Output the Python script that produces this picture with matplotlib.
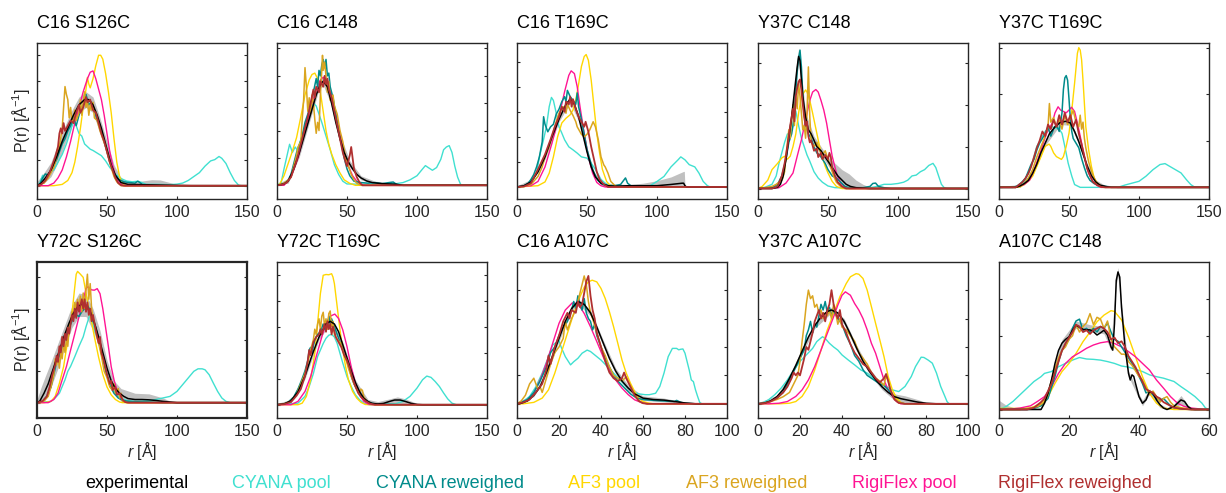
import numpy as np
import matplotlib
matplotlib.use("Agg")
import matplotlib.pyplot as plt

plt.rcParams['font.family'] = ['Liberation Sans', 'DejaVu Sans']
plt.rcParams['mathtext.fontset'] = 'custom'
plt.rcParams['mathtext.rm'] = 'Liberation Sans'
plt.rcParams['mathtext.it'] = 'Liberation Sans:italic'

# ---- data: P(r), (r [A], P) pairs, y in tick units ----
# bands are (r, lower, upper)

# C16 S126C
c16s126_exp = [(0,0),(3,0.1),(6,0.3),(10,0.6),(14,1.1),(18,1.7),(22,2.2),(26,2.7),(30,3.1),(34,3.3),(37,3.3),(40,3.1),(43,2.7),(46,2.2),(50,1.4),(53,0.8),(56,0.4),(60,0.12),(65,0.05),(75,0.04),(85,0.03),(100,0.01),(110,0),(150,0)]
c16s126_band = [(0,0,0.15),(5,0.1,0.5),(10,0.35,0.9),(15,0.9,1.6),(20,1.6,2.3),(25,2.3,2.9),(30,2.8,3.4),(35,3.0,3.6),(40,2.8,3.4),(45,2.0,2.6),(50,1.2,1.7),(55,0.3,0.8),(60,0,0.3),(65,0,0.12),(70,0,0.12),(75,0,0.18),(82,0,0.23),(88,0,0.22),(95,0,0.12),(100,0,0.04),(105,0,0),(150,0,0)]
c16s126_cy = [(0,0),(2,0.1),(4,0.4),(5,0.2),(7,0.3),(9,0.5),(12,0.6),(15,0.9),(18,1.2),(21,1.6),(24,2.1),(26,2.5),(28,2.3),(30,2.0),(32,1.9),(34,1.6),(36,1.5),(38,1.4),(40,1.35),(43,1.25),(46,1.15),(49,0.95),(52,0.7),(55,0.5),(58,0.35),(61,0.25),(64,0.18),(68,0.15),(72,0.17),(75,0.12),(78,0.05),(85,0.05),(95,0.04),(100,0.06),(104,0.1),(108,0.2),(112,0.35),(116,0.5),(120,0.75),(124,0.95),(127,1.0),(130,1.12),(132,1.05),(135,0.85),(138,0.5),(141,0.2),(144,0.02),(146,0),(150,0)]
c16s126_cyrw = [(0,0),(2,0.05),(4,0.3),(6,0.45),(8,0.4),(10,0.6),(12,0.8),(14,1.0),(16,1.3),(18,1.6),(20,1.8),(22,2.1),(24,2.3),(26,2.6),(28,2.3),(30,2.7),(32,3.0),(34,3.2),(35,3.5),(37,3.1),(39,3.2),(41,2.9),(43,2.5),(45,2.3),(47,1.9),(50,1.3),(52,0.9),(55,0.5),(58,0.25),(62,0.15),(66,0.12),(70,0.1),(72,0.17),(74,0.1),(76,0),(150,0)]
c16s126_af = [(0,0),(12,0),(18,0.05),(22,0.2),(25,0.5),(27,0.9),(29,1.5),(31,2.2),(33,3.0),(35,3.7),(36,4.15),(37,3.9),(38,3.75),(40,4.1),(42,4.6),(44,5.0),(45.5,5.0),(47,4.85),(49,4.3),(51,3.6),(53,2.8),(55,1.8),(57,0.9),(59,0.35),(61,0.1),(63,0),(150,0)]
c16s126_afrw = [(0,0),(5,0.1),(8,0.3),(10,0.5),(12,0.7),(14,1.1),(16,1.5),(18,2.2),(19,3.0),(20,3.8),(21,3.5),(22,3.3),(23,2.6),(24,3.0),(25,2.5),(26,2.4),(27,2.9),(28,2.5),(30,2.8),(31,3.3),(32,2.7),(33,3.2),(34,3.6),(35,3.0),(36,3.3),(37,2.7),(38,3.1),(39,2.9),(40,3.2),(41,2.6),(43,2.5),(45,2.1),(47,1.8),(49,1.5),(51,1.1),(53,0.7),(55,0.35),(57,0.15),(60,0),(150,0)]
c16s126_rf = [(0,0),(8,0),(12,0.1),(15,0.3),(18,0.6),(21,1.1),(24,1.7),(27,2.4),(30,3.0),(33,3.6),(36,4.1),(38,4.35),(40,4.4),(42,4.1),(44,3.7),(46,3.3),(48,2.7),(50,2.0),(52,1.3),(54,0.8),(56,0.4),(58,0.15),(61,0.02),(63,0),(150,0)]
c16s126_rfrw = [(0,0),(3,0.05),(6,0.2),(9,0.5),(11,0.8),(13,1.1),(15,1.5),(16,2.0),(17,2.2),(18,2.0),(19,2.4),(20,2.1),(22,2.3),(24,2.5),(26,2.4),(28,2.8),(30,3.1),(31,2.8),(33,3.0),(35,3.4),(36,3.2),(38,3.3),(40,2.9),(42,2.8),(44,2.4),(46,2.0),(48,1.7),(50,1.3),(52,0.9),(54,0.6),(56,0.3),(58,0.1),(60,0.02),(62,0),(150,0)]

# C16 C148
c16c148_exp = [(0,0),(5,0.05),(8,0.15),(12,0.6),(16,1.2),(20,1.9),(24,2.6),(28,3.3),(31,3.7),(33,3.8),(36,3.6),(39,3.0),(42,2.3),(45,1.7),(48,1.2),(51,0.85),(54,0.6),(57,0.4),(60,0.27),(64,0.16),(68,0.1),(75,0.06),(85,0.04),(90,0),(150,0)]
c16c148_band = [(0,0,0.05),(8,0.08,0.25),(16,1.05,1.35),(24,2.45,2.75),(30,3.5,3.85),(33,3.65,3.95),(38,3.05,3.35),(45,1.55,1.85),(52,0.65,0.9),(60,0.2,0.35),(70,0.05,0.15),(85,0.02,0.07),(90,0,0),(150,0,0)]
c16c148_cy = [(0,0),(3,0.1),(5,0.6),(7,1.05),(9,1.5),(11,1.2),(13,1.4),(15,1.25),(17,1.65),(20,2.15),(23,2.6),(26,3.0),(28,2.9),(30,2.6),(32,2.3),(35,1.8),(38,1.3),(41,0.75),(44,0.4),(47,0.15),(50,0.05),(60,0.04),(75,0.05),(85,0.06),(90,0.1),(95,0.2),(100,0.35),(104,0.6),(106,0.72),(108,0.65),(111,0.55),(114,0.65),(117,0.95),(119,1.3),(121,1.4),(123,1.45),(125,1.2),(127,0.7),(129,0.3),(131,0.05),(132,0),(150,0)]
c16c148_cyrw = [(0,0),(3,0.02),(6,0.1),(8,0.2),(10,0.4),(12,0.8),(14,1.2),(16,1.5),(18,1.8),(20,2.3),(22,2.6),(24,2.9),(26,3.4),(28,3.9),(29,3.6),(30,4.2),(31,4.0),(32,4.4),(33,4.6),(34,4.3),(35,4.6),(36,4.0),(37,4.1),(38,3.6),(40,3.2),(42,2.6),(44,2.0),(46,1.5),(48,1.0),(50,0.6),(52,0.35),(55,0.15),(60,0.1),(65,0.08),(70,0.1),(75,0.06),(80,0.1),(83,0.12),(85,0.05),(87,0),(150,0)]
c16c148_af = [(0,0),(2,0.05),(5,0.35),(8,0.8),(11,1.25),(14,1.75),(17,2.5),(20,3.3),(23,3.85),(25,4.05),(27,4.1),(29,3.9),(31,3.4),(33,2.7),(35,2.0),(37,1.5),(39,1.15),(42,0.75),(45,0.45),(48,0.2),(52,0.07),(56,0),(150,0)]
c16c148_afrw = [(0,0),(4,0.05),(7,0.15),(10,0.3),(12,0.7),(14,1.1),(15,1.4),(17,1.6),(18,2.4),(19,3.1),(20,4.3),(21,3.6),(22,2.7),(23,3.2),(24,2.6),(25,3.3),(26,3.0),(27,2.4),(28,1.9),(29,2.3),(30,2.0),(31,3.3),(32,4.2),(32.5,4.75),(33,4.2),(34,4.5),(35,4.0),(36,3.4),(37,3.8),(38,3.1),(40,3.3),(41,2.9),(43,2.6),(45,2.0),(47,1.6),(49,1.0),(51,0.7),(53,0.4),(55,0.2),(57,0.08),(60,0),(150,0)]
c16c148_rf = [(0,0),(5,0),(10,0.3),(15,1.0),(20,2.0),(25,3.0),(28,3.5),(31,3.85),(33,3.95),(36,3.8),(39,3.3),(42,2.6),(45,1.9),(48,1.2),(51,0.7),(54,0.35),(57,0.15),(60,0.04),(63,0),(150,0)]
c16c148_rfrw = [(0,0),(4,0.03),(7,0.1),(10,0.3),(12,0.6),(14,0.9),(16,1.3),(18,1.7),(20,2.1),(22,2.5),(24,3.0),(26,3.5),(27,3.2),(28,3.6),(30,3.4),(31,3.8),(33,3.6),(34,4.0),(35,3.7),(36,3.9),(37,3.5),(39,3.2),(41,2.7),(43,2.2),(45,1.7),(47,1.2),(49,0.85),(50,0.7),(51,0.9),(52,1.1),(53,1.4),(54,1.0),(55,0.6),(57,0.3),(59,0.1),(61,0),(150,0)]

# C16 T169C
c16t169_exp = [(0,0),(5,0.05),(10,0.2),(15,0.6),(20,1.2),(25,2.0),(30,2.7),(35,3.3),(38,3.5),(41,3.3),(44,2.8),(47,2.1),(50,1.4),(53,0.8),(56,0.4),(60,0.15),(65,0.05),(70,0.03),(80,0.05),(90,0.05),(100,0.05),(110,0.1),(118,0.15),(119,0.15),(120,0.05),(121,0),(150,0)]
c16t169_band = [(0,0,0.05),(10,0.15,0.3),(20,1.1,1.35),(30,2.6,2.85),(38,3.35,3.65),(45,2.5,2.8),(50,1.3,1.55),(55,0.4,0.6),(60,0.1,0.25),(65,0,0.15),(70,0,0.12),(80,0,0.1),(90,0,0.15),(100,0,0.25),(110,0,0.4),(119,0,0.62),(119.5,0,0.62),(120,0,0),(150,0,0)]
c16t169_cy = [(0,0),(5,0.02),(8,0.1),(10,0.25),(12,0.35),(14,0.55),(16,1.2),(19,1.9),(21,2.4),(23,3.2),(24.6,3.57),(26,3.45),(28,2.95),(30,2.4),(32,2.15),(34,1.88),(37,1.6),(40,1.48),(43,1.35),(46,1.2),(50,1.15),(53,0.95),(56,0.7),(60,0.3),(64,0.1),(70,0.03),(80,0.02),(95,0.05),(100,0.22),(105,0.42),(110,0.8),(115,1.08),(117,1.2),(120,1.08),(123,0.89),(127,0.8),(130,0.55),(133,0.22),(136,0.05),(138,0),(150,0)]
c16t169_cyrw = [(0,0),(5,0.05),(8,0.15),(10,0.3),(12,0.5),(14,0.8),(16,1.2),(18,1.8),(19,2.8),(20,2.5),(22,2.2),(24,2.4),(26,2.5),(28,2.9),(30,3.1),(32,3.4),(34,3.6),(35,3.4),(36,3.85),(38,3.6),(40,3.45),(42,3.3),(43,3.75),(44,3.2),(46,2.7),(48,2.1),(50,1.5),(52,1.1),(54,0.7),(56,0.45),(58,0.25),(61,0.1),(65,0.05),(70,0.05),(74,0.1),(76,0.25),(77.5,0.36),(79,0.15),(82,0.02),(85,0),(150,0)]
c16t169_af = [(0,0),(15,0.05),(20,0.2),(23,0.55),(26,1.2),(29,2.0),(32,2.55),(35,2.74),(38,2.88),(40,3.07),(42,3.47),(44,4.1),(46,4.8),(48,5.2),(49.4,5.28),(51,5.05),(53,4.26),(55,3.2),(57,2.14),(59,1.35),(61,0.7),(64,0.22),(67,0.03),(70,0),(150,0)]
c16t169_afrw = [(0,0),(5,0.02),(10,0.1),(15,0.42),(18,0.8),(20,1.2),(23,1.6),(25,2.0),(28,2.6),(30,2.94),(32,3.1),(33,3.2),(35,2.94),(36,3.3),(38,3.05),(40,2.85),(42,2.6),(43,2.4),(45,2.2),(46,2.1),(48,2.0),(50,2.1),(52,2.28),(54.4,2.6),(56,2.4),(58,1.9),(60,1.2),(62,0.88),(63,0.8),(65,0.55),(67,0.22),(70,0.05),(72,0),(150,0)]
c16t169_rf = [(0,0),(10,0.05),(15,0.22),(20,0.8),(25,1.75),(30,2.8),(34,3.8),(37,4.45),(38.7,4.63),(41,4.52),(43,4.0),(45,3.2),(48,2.14),(51,1.2),(54,0.55),(57,0.18),(60,0.05),(63,0),(150,0)]
c16t169_rfrw = [(0,0),(5,0.02),(10,0.15),(15,0.7),(20,1.3),(24,1.9),(27,2.4),(30,2.8),(32,3.2),(34,3.0),(35,3.4),(37,3.3),(38,3.6),(39,3.2),(40,3.5),(42,3.1),(44,2.8),(46,2.6),(48,2.4),(49,2.6),(51,2.2),(53,1.6),(55,1.1),(57,0.6),(59,0.3),(62,0.1),(65,0),(150,0)]

# Y37C C148
y37c148_exp = [(0,0),(10,0),(14,0.03),(16,0.1),(18,0.3),(20,0.7),(22,1.2),(24,1.7),(26,2.3),(28,2.9),(29,3.15),(30,3.05),(31,2.6),(32,2.2),(34,1.7),(36,1.4),(38,1.3),(40,1.15),(42,1.0),(45,0.9),(48,0.75),(51,0.6),(54,0.45),(57,0.3),(60,0.2),(63,0.1),(66,0.05),(70,0.02),(80,0),(150,0)]
y37c148_band = [(0,0,0.03),(14,0,0.08),(18,0.25,0.4),(22,1.1,1.3),(26,2.2,2.45),(29,3.0,3.35),(31,2.5,2.75),(34,1.6,1.8),(40,1.05,1.25),(45,0.8,1.0),(50,0.55,0.75),(55,0.3,0.6),(60,0.1,0.45),(65,0,0.35),(70,0,0.2),(75,0,0.1),(80,0,0.03),(85,0,0),(150,0,0)]
y37c148_cy = [(0,0),(5,0.03),(10,0.1),(13,0.3),(15,0.6),(17,0.85),(19,1.1),(21,1.3),(23,1.3),(25,1.5),(27,1.85),(29,1.5),(31,1.2),(33,1.0),(35,0.8),(37,0.65),(40,0.4),(43,0.25),(46,0.15),(50,0.06),(55,0.02),(65,0.01),(80,0.02),(85,0.05),(90,0.1),(95,0.1),(100,0.12),(104,0.15),(107,0.2),(110,0.3),(113,0.32),(116,0.4),(119,0.45),(122,0.55),(125,0.6),(127,0.5),(129,0.3),(131,0.1),(133,0.02),(135,0),(150,0)]
y37c148_cyrw = [(0,0),(10,0.02),(14,0.1),(17,0.3),(20,0.7),(22,1.1),(24,1.3),(25,1.5),(27,2.3),(28,2.8),(29,3.1),(30,3.3),(31,2.9),(32,2.2),(33,1.8),(34,1.5),(36,1.3),(38,1.2),(40,1.0),(42,0.85),(44,0.8),(46,0.7),(48,0.6),(50,0.45),(53,0.3),(56,0.25),(59,0.15),(62,0.05),(65,0.02),(75,0.02),(80,0.05),(82,0.12),(84,0.13),(86,0.05),(90,0.02),(95,0),(150,0)]
y37c148_af = [(0,0),(3,0.05),(7,0.2),(10,0.45),(14,0.6),(17,0.73),(19,0.77),(21,0.7),(23,0.77),(25,1.0),(27,1.3),(29,1.8),(31,2.2),(34,2.35),(35,2.3),(37,2.1),(39,1.8),(41,1.48),(43,1.16),(45,0.85),(48,0.53),(50,0.37),(53,0.17),(56,0.05),(60,0),(150,0)]
y37c148_afrw = [(0,0),(5,0.02),(10,0.05),(13,0.1),(15,0.15),(17,0.2),(19,0.4),(20,0.8),(22,1.4),(23,1.2),(24,1.6),(25,2.0),(26,1.5),(27,2.2),(28,1.9),(29,2.5),(30,2.2),(31,1.8),(32,1.4),(33,1.5),(34,1.2),(35,1.8),(36,2.9),(37,1.7),(38,1.1),(40,1.0),(42,1.1),(44,0.9),(46,0.8),(48,0.9),(50,0.7),(52,0.5),(54,0.3),(56,0.15),(59,0.05),(62,0),(150,0)]
y37c148_rf = [(0,0),(15,0.02),(20,0.13),(25,0.37),(28,0.77),(31,1.16),(34,1.64),(37,2.1),(39,2.3),(41.3,2.36),(43,2.3),(45,2.1),(47,1.87),(49,1.56),(51,1.16),(53,0.77),(56,0.37),(59,0.13),(62,0.04),(65,0),(150,0)]
y37c148_rfrw = [(0,0),(10,0),(14,0.05),(17,0.3),(19,0.6),(21,1.0),(23,1.5),(25,1.9),(26,1.6),(27,2.2),(28,2.4),(29,2.55),(30,2.6),(31,2.35),(32,2.0),(33,1.7),(34,1.5),(35,1.6),(36,1.25),(37,1.1),(38,1.15),(40,0.9),(42,0.95),(43,0.75),(45,0.85),(46,0.7),(48,0.8),(50,0.7),(51,0.85),(52,0.75),(53,0.5),(55,0.3),(57,0.15),(60,0.05),(63,0),(150,0)]

# Y37C T169C
y37t169_exp = [(0,0),(12,0),(15,0.03),(18,0.08),(21,0.15),(24,0.3),(27,0.5),(30,0.75),(33,0.95),(36,1.15),(40,1.3),(44,1.4),(48,1.42),(51,1.38),(54,1.2),(57,0.98),(60,0.72),(63,0.46),(66,0.25),(69,0.12),(72,0.05),(76,0.02),(80,0),(150,0)]
y37t169_band = [(0,0,0.02),(15,0,0.06),(24,0.25,0.35),(33,0.9,1.0),(44,1.35,1.45),(51,1.33,1.43),(57,0.93,1.03),(63,0.41,0.51),(69,0.08,0.16),(76,0,0.04),(80,0,0),(150,0,0)]
y37t169_cy = [(0,0),(12,0),(15,0.06),(18,0.13),(21,0.3),(23,0.45),(25,0.66),(27,0.88),(29,0.98),(31,1.1),(33,1.2),(35,1.27),(38,1.3),(41,1.27),(43,1.25),(45,1.16),(47,0.88),(49.4,0.52),(52,0.24),(54,0.06),(58,0),(85,0),(90,0.05),(100,0.13),(105,0.24),(110,0.38),(115,0.49),(118.6,0.51),(122,0.45),(126,0.38),(130,0.31),(134,0.16),(137,0.06),(140,0),(150,0)]
y37t169_cyrw = [(0,0),(10,0),(13,0.03),(16,0.1),(19,0.2),(21,0.35),(23,0.5),(25,0.6),(27,0.8),(29,0.95),(31,1.05),(33,1.15),(35,1.3),(37,1.1),(39,1.25),(41,1.35),(43,1.2),(45,1.6),(46,2.1),(47,2.35),(48,2.4),(49,2.3),(50,1.9),(51,1.45),(52,1.2),(53,1.05),(55,0.95),(57,0.85),(59,0.62),(61,0.42),(63,0.25),(65,0.15),(68,0.08),(72,0.04),(76,0.02),(80,0.01),(85,0),(150,0)]
y37t169_af = [(0,0),(15,0.01),(18,0.06),(21,0.13),(24,0.24),(27,0.45),(30,0.66),(33,0.88),(35.8,0.93),(37,0.88),(39,0.74),(41,0.66),(44.6,0.6),(46,0.66),(48,0.88),(50,1.16),(52,1.66),(54,2.24),(56,2.88),(57,3.0),(58,2.95),(59,2.74),(60,2.3),(61,1.8),(62,1.3),(64,0.81),(66,0.45),(68,0.2),(70,0.06),(73,0),(150,0)]
y37t169_afrw = [(0,0),(12,0),(15,0.03),(18,0.08),(21,0.2),(24,0.38),(27,0.65),(29,0.8),(31,0.95),(33,1.1),(35,1.3),(36,1.8),(37,1.4),(39,1.5),(41,1.3),(43,1.45),(45,1.25),(47,1.55),(49,1.35),(51,1.5),(53,1.65),(55,1.4),(57,1.3),(58,1.55),(59,1.25),(60,1.4),(61,1.05),(62,0.85),(64,0.55),(66,0.35),(68,0.2),(70,0.1),(73,0.03),(76,0),(150,0)]
y37t169_rf = [(0,0),(12,0),(18,0.06),(22,0.16),(26,0.45),(30,0.8),(34,1.16),(38,1.38),(40,1.6),(42.2,1.73),(44,1.66),(46,1.63),(48,1.6),(50,1.66),(51.8,1.72),(54,1.63),(56,1.38),(58,1.1),(60,0.81),(62,0.52),(64,0.31),(67,0.13),(70,0.04),(73,0),(150,0)]
y37t169_rfrw = [(0,0),(12,0),(14,0.05),(17,0.12),(19,0.2),(21,0.3),(23,0.45),(25,0.65),(27,0.85),(29,1.0),(31,1.2),(33,1.1),(35,1.35),(37,1.25),(39,1.45),(41,1.3),(43,1.55),(45,1.35),(47,1.6),(49,1.4),(51,1.55),(53,1.3),(55,1.45),(57,1.15),(59,0.92),(61,0.66),(63,0.4),(65,0.25),(67,0.12),(70,0.05),(73,0.01),(76,0),(150,0)]

# Y72C S126C
y72s126_exp = [(0,0),(2,0.05),(5,0.3),(8,0.6),(11,1.0),(14,1.4),(17,1.8),(20,2.2),(23,2.55),(26,2.85),(29,3.05),(32,3.15),(35,3.1),(38,2.9),(41,2.55),(44,2.1),(47,1.6),(50,1.1),(53,0.7),(56,0.45),(59,0.3),(62,0.2),(65,0.13),(70,0.1),(75,0.1),(80,0.09),(85,0.07),(90,0.04),(95,0.02),(100,0),(150,0)]
y72s126_band = [(0,0,0.1),(3,0,0.5),(6,0.1,0.85),(10,0.5,1.3),(15,1.1,1.9),(20,1.8,2.5),(25,2.4,3.1),(30,2.75,3.5),(35,2.75,3.45),(40,2.3,3.0),(45,1.7,2.3),(50,0.9,1.35),(55,0.3,0.7),(60,0.05,0.45),(70,0,0.3),(80,0,0.28),(90,0,0.15),(95,0,0.05),(100,0,0),(150,0,0)]
y72s126_cy = [(0,0),(10,0.04),(13,0.15),(16,0.3),(20,0.73),(22,1.0),(24,1.16),(27,1.47),(30,1.8),(33,2.1),(35,2.42),(37.7,2.8),(40,2.5),(42,2.2),(44,2.0),(46,1.68),(48,1.37),(50,0.94),(52,0.62),(55,0.36),(58,0.2),(61,0.12),(65,0.06),(70,0.04),(80,0.06),(85,0.1),(90,0.15),(95,0.2),(100,0.36),(103,0.52),(106,0.68),(109,0.84),(112,1.0),(115,1.08),(118,1.08),(120,1.05),(123,0.89),(126,0.62),(129,0.36),(132,0.15),(135,0.04),(138,0),(150,0)]
y72s126_cyrw = [(0,0),(4,0.05),(7,0.2),(10,0.5),(12,0.9),(14,1.3),(16,1.5),(18,1.8),(20,2.0),(22,2.3),(24,2.5),(26,2.7),(28,2.8),(30,2.75),(32,2.9),(34,3.0),(36,3.1),(38,2.95),(40,2.6),(42,2.4),(44,2.0),(46,1.55),(48,1.2),(50,0.85),(52,0.55),(55,0.3),(58,0.15),(61,0.08),(64,0.05),(70,0.03),(80,0.02),(90,0),(150,0)]
y72s126_af = [(0,0),(5,0),(10,0.04),(13,0.2),(16,0.62),(19,1.15),(22,2.0),(25,2.85),(27,3.7),(28,4.1),(29,4.19),(31,4.1),(33,4.0),(35,3.5),(38,2.8),(41,2.1),(44,1.45),(47,0.9),(50,0.5),(53,0.25),(56,0.1),(59,0.02),(61,0),(150,0)]
y72s126_afrw = [(0,0),(5,0.05),(8,0.2),(10,0.5),(12,0.9),(13,1.4),(14,1.2),(15,1.5),(16,1.1),(17,1.6),(18,1.4),(19,1.9),(20,1.6),(21,2.0),(22,1.8),(23,2.4),(24,2.6),(25,2.9),(26,2.7),(27,3.2),(28,3.0),(29,3.3),(30,3.0),(31,3.4),(32,2.9),(33,3.5),(34,3.0),(35,3.6),(36,4.1),(37,3.3),(38,3.8),(39,3.0),(40,2.7),(42,2.3),(44,1.9),(46,1.5),(48,1.0),(50,0.8),(52,0.5),(54,0.4),(55,0.6),(56,0.3),(58,0.45),(59,0.15),(60,0.3),(61,0.05),(64,0),(150,0)]
y72s126_rf = [(0,0),(8,0),(12,0.1),(15,0.3),(18,0.73),(21,1.15),(24,1.68),(27,2.2),(30,2.74),(33,3.27),(35,3.64),(36.3,3.7),(39,3.6),(41,3.59),(43,3.64),(45,3.48),(47,3.0),(49,2.4),(51,1.79),(53,1.15),(55,0.73),(57,0.41),(60,0.15),(63,0.02),(66,0),(150,0)]
y72s126_rfrw = [(0,0),(4,0.05),(7,0.2),(9,0.5),(11,0.9),(13,1.2),(14,1.5),(15,1.3),(16,1.8),(17,1.6),(18,2.1),(19,1.8),(20,2.2),(21,2.0),(22,2.4),(23,2.2),(24,2.5),(25,2.8),(26,2.6),(27,3.0),(28,2.7),(29,3.2),(30,2.9),(31,3.1),(32,3.3),(33,3.0),(34,3.3),(35,2.9),(36,3.2),(37,2.8),(38,3.0),(39,2.6),(40,2.8),(42,2.3),(44,1.9),(45,2.1),(46,1.6),(48,1.3),(50,0.9),(52,0.6),(53,0.7),(54,0.4),(56,0.5),(57,0.25),(59,0.3),(61,0.1),(63,0.02),(65,0),(150,0)]

# Y72C T169C
y72t169_exp = [(0,0),(5,0.03),(10,0.15),(15,0.5),(20,1.1),(25,1.9),(30,2.6),(35,3.1),(38,3.2),(41,3.1),(44,2.8),(47,2.3),(50,1.8),(53,1.3),(56,0.85),(59,0.5),(62,0.25),(65,0.12),(68,0.05),(72,0.03),(76,0.05),(80,0.12),(84,0.18),(88,0.18),(92,0.12),(96,0.05),(100,0.01),(104,0),(150,0)]
y72t169_band = [(0,0,0.05),(10,0.1,0.2),(20,1.0,1.2),(30,2.5,2.7),(38,3.1,3.3),(47,2.2,2.4),(56,0.75,0.95),(65,0.05,0.2),(72,0,0.12),(80,0.02,0.22),(86,0.05,0.3),(92,0.02,0.22),(100,0,0.05),(104,0,0),(150,0,0)]
y72t169_cy = [(0,0),(15,0.06),(20,0.32),(23,0.7),(26,1.2),(29,1.85),(31,2.1),(33,2.35),(35,2.55),(37,2.67),(39,2.7),(41,2.6),(43,2.35),(45,1.97),(47,1.6),(50,1.08),(53,0.7),(56,0.38),(59,0.19),(62,0.06),(66,0),(85,0.04),(90,0.13),(95,0.32),(100,0.64),(104,0.96),(107,1.1),(110,1.05),(113,0.89),(116,0.7),(119,0.45),(122,0.22),(125,0.06),(128,0),(150,0)]
y72t169_cyrw = [(0,0),(5,0.03),(8,0.1),(12,0.3),(15,0.6),(18,1.0),(20,1.3),(22,1.7),(23,2.1),(24,2.2),(25,2.0),(27,2.5),(29,2.7),(31,2.8),(33,3.1),(34,2.9),(35,3.2),(36,3.0),(37,3.4),(38,3.1),(39,3.3),(41,3.0),(43,2.7),(45,2.4),(47,2.1),(49,1.8),(51,1.5),(53,1.1),(55,0.8),(58,0.5),(61,0.3),(64,0.15),(67,0.07),(70,0.03),(75,0.02),(80,0.01),(85,0),(150,0)]
y72t169_af = [(0,0),(15,0),(18,0.06),(21,0.32),(24,0.96),(27,1.97),(29,3.12),(31,4.27),(33,4.97),(35,5.0),(37,4.99),(39,5.03),(40,4.9),(41,4.65),(43,3.76),(45,2.87),(47,2.1),(49,1.46),(51,0.96),(54,0.51),(57,0.25),(60,0.09),(63,0.01),(66,0),(150,0)]
y72t169_afrw = [(0,0),(5,0.03),(10,0.15),(14,0.4),(17,0.8),(20,1.2),(22,1.6),(24,2.1),(26,2.5),(27,2.9),(28,2.7),(29,3.1),(30,3.3),(31,2.9),(32,3.4),(33,3.55),(34,3.0),(35,3.3),(36,2.9),(37,3.5),(38,3.6),(39,3.0),(40,3.2),(41,2.7),(43,2.5),(45,2.4),(47,2.1),(49,1.8),(51,1.4),(53,1.1),(55,0.8),(57,0.6),(59,0.45),(60,0.6),(61,0.55),(62,0.3),(64,0.15),(67,0.05),(70,0),(150,0)]
y72t169_rf = [(0,0),(10,0),(15,0.13),(20,0.51),(24,1.08),(28,1.85),(32,2.6),(35,3.12),(38,3.4),(41.3,3.48),(44,3.31),(47,2.87),(50,2.23),(53,1.46),(56,0.83),(59,0.38),(62,0.13),(65,0.03),(68,0),(150,0)]
y72t169_rfrw = [(0,0),(5,0.02),(10,0.1),(14,0.35),(17,0.6),(20,1.1),(22,1.7),(23,2.1),(24,1.9),(26,2.4),(28,2.6),(30,2.7),(31,2.9),(32,2.7),(34,3.1),(35,2.8),(36,3.2),(37,2.9),(38,3.1),(39,2.7),(40,3.0),(42,2.6),(44,2.4),(46,2.2),(48,1.9),(50,1.7),(52,1.4),(54,1.0),(56,0.7),(58,0.45),(60,0.3),(63,0.15),(66,0.05),(70,0),(150,0)]

# C16 A107C
c16a107_exp = [(0,0),(2,0.02),(5,0.1),(8,0.3),(11,0.6),(14,1.1),(17,1.7),(20,2.3),(23,2.9),(26,3.35),(29,3.6),(32,3.5),(35,3.2),(38,2.7),(41,2.15),(44,1.6),(47,1.15),(50,0.8),(53,0.55),(56,0.35),(60,0.2),(65,0.15),(70,0.13),(75,0.08),(80,0.03),(85,0),(100,0)]
c16a107_band = [(0,0,0.05),(8,0.25,0.35),(14,1.0,1.2),(20,2.2,2.4),(26,3.25,3.45),(29,3.5,3.7),(35,3.1,3.3),(41,2.05,2.25),(47,1.05,1.25),(53,0.45,0.65),(60,0.12,0.28),(70,0.07,0.2),(80,0,0.06),(85,0,0),(100,0,0)]
c16a107_cy = [(0,0),(3,0.08),(6,0.26),(9,0.6),(12,1.08),(15,1.66),(17,2.07),(20,2.22),(21,2.0),(23,1.66),(25.5,1.37),(27,1.48),(29,1.6),(31,1.78),(33.4,1.89),(35,1.84),(37,1.72),(40,1.54),(43,1.31),(46,1.08),(49,0.84),(52,0.61),(55,0.43),(58,0.35),(61,0.32),(63,0.32),(66,0.37),(68,0.61),(70,1.08),(72,1.66),(74,1.95),(76,1.95),(77,1.9),(78,1.92),(79,1.93),(80,1.78),(82,1.19),(83,0.84),(84,0.78),(85,0.49),(86,0.26),(87,0.05),(88,0),(100,0)]
c16a107_cyrw = [(0,0),(2,0.05),(5,0.15),(8,0.4),(11,0.8),(14,1.3),(16,1.8),(18,2.0),(20,2.4),(22,2.7),(24,2.9),(26,3.3),(27,3.6),(28,3.35),(29,3.8),(30,3.5),(31,3.3),(32,3.7),(33,3.2),(34,3.0),(35,2.9),(36,2.6),(37,2.8),(38,2.4),(40,2.0),(42,1.6),(44,1.3),(46,1.0),(48,0.8),(50,0.65),(52,0.5),(54,0.35),(57,0.2),(60,0.15),(65,0.12),(70,0.1),(75,0.08),(76,0.12),(78,0.05),(80,0.02),(85,0),(100,0)]
c16a107_af = [(0,0),(3,0),(8,0.05),(12,0.2),(15,0.49),(18,1.08),(21,1.78),(24,2.48),(27,3.18),(30,3.77),(32,4.1),(34,4.29),(35.8,4.35),(38,4.29),(40,4.06),(42,3.71),(44,3.24),(46,2.71),(48,2.13),(50,1.54),(52,1.08),(54,0.73),(56,0.43),(58,0.2),(60,0.08),(63,0.02),(65,0),(100,0)]
c16a107_afrw = [(0,0),(2,0.1),(4,0.3),(6,0.7),(8,0.9),(9,0.7),(10,0.5),(11,0.6),(12,0.4),(14,0.9),(16,1.4),(18,1.8),(20,2.0),(22,2.3),(23,2.9),(24,2.6),(26,3.0),(28,3.3),(29,3.6),(30,3.9),(31,4.2),(32,4.5),(33,4.2),(34,3.6),(35,3.2),(36,3.0),(38,2.5),(40,2.0),(42,1.7),(44,1.3),(46,1.0),(48,0.9),(50,0.8),(52,0.95),(53,0.8),(55,0.5),(57,0.2),(59,0.05),(62,0),(100,0)]
c16a107_rf = [(0,0),(2,0.02),(5,0.14),(8,0.37),(11,0.84),(14,1.43),(17,2.13),(20,2.83),(23,3.3),(26.3,3.55),(28,3.53),(30,3.41),(32,3.18),(35,2.71),(38,2.19),(41,1.66),(44,1.19),(47,0.84),(50,0.55),(53,0.32),(56,0.14),(59,0.05),(62,0),(100,0)]
c16a107_rfrw = [(0,0),(3,0.05),(6,0.15),(9,0.4),(12,0.7),(14,1.2),(15,1.7),(16,1.4),(18,2.0),(20,2.4),(22,2.9),(24,3.2),(25,3.0),(26,3.3),(28,3.2),(29,3.6),(30,3.4),(31,3.5),(32,3.9),(33,4.3),(34,4.5),(35,3.8),(36,3.3),(37,3.0),(38,2.5),(40,2.0),(42,1.5),(44,1.1),(46,0.9),(48,0.8),(50,0.9),(51,1.1),(52,0.9),(54,0.6),(56,0.3),(58,0.1),(60,0.02),(62,0),(100,0)]

# Y37C A107C
y37a107_exp = [(0,0),(3,0.02),(6,0.1),(9,0.25),(12,0.5),(15,0.9),(18,1.35),(21,1.85),(24,2.35),(27,2.75),(30,3.05),(33,3.25),(35,3.3),(38,3.2),(41,2.9),(44,2.45),(47,1.95),(50,1.5),(53,1.15),(56,0.85),(59,0.6),(62,0.4),(65,0.25),(68,0.18),(72,0.12),(76,0.06),(80,0.02),(85,0),(100,0)]
y37a107_band = [(0,0,0.04),(9,0.2,0.3),(15,0.8,1.0),(21,1.75,1.95),(27,2.65,2.85),(35,3.2,3.4),(41,2.8,3.0),(47,1.85,2.05),(53,1.05,1.25),(59,0.5,0.7),(65,0.12,0.35),(70,0.05,0.28),(76,0,0.15),(80,0,0.05),(85,0,0),(100,0,0)]
y37a107_cy = [(0,0),(2,0.02),(5,0.14),(8,0.32),(11,0.55),(14,0.84),(17,1.19),(20,1.49),(23,1.72),(26,1.95),(28,2.19),(30.7,2.36),(32,2.3),(34,2.13),(36,2.0),(38,1.89),(40,1.72),(43,1.54),(46,1.37),(49,1.19),(52,1.08),(55,0.9),(58,0.78),(61,0.61),(64,0.49),(67,0.43),(70,0.61),(73,0.96),(75,1.31),(77.7,1.64),(79,1.63),(81,1.54),(83,1.43),(85,1.08),(87,0.61),(89,0.26),(90,0.08),(91,0),(100,0)]
y37a107_cyrw = [(0,0),(3,0.03),(6,0.1),(9,0.2),(12,0.4),(14,0.7),(16,1.0),(18,1.3),(20,1.6),(22,1.9),(23,2.4),(24,2.6),(25,2.9),(26,2.5),(27,2.8),(28,2.7),(29,3.1),(30,3.5),(31,3.3),(32,3.6),(33,3.2),(34,3.4),(35,3.1),(36,3.3),(38,3.0),(40,2.8),(42,2.4),(44,2.1),(46,1.7),(48,1.5),(50,1.2),(52,1.0),(54,0.9),(56,0.8),(58,0.7),(60,0.65),(62,0.5),(64,0.3),(66,0.1),(68,0.03),(70,0),(100,0)]
y37a107_af = [(0,0),(10,0),(15,0.02),(18,0.08),(21,0.26),(24,0.61),(27,1.19),(30,1.89),(33,2.6),(36,3.18),(39,3.77),(42,4.23),(44,4.47),(46.7,4.58),(48,4.56),(50,4.41),(52,4.0),(54,3.42),(56,2.83),(58,2.25),(60,1.66),(62,0.96),(64,0.49),(66,0.2),(68,0.05),(70,0),(100,0)]
y37a107_afrw = [(0,0),(3,0.02),(6,0.08),(9,0.15),(12,0.25),(15,0.4),(17,0.7),(19,1.0),(20,1.5),(21,2.2),(22,2.8),(23,3.5),(24,4.0),(25,3.7),(26,3.8),(27,3.4),(28,3.5),(29,3.2),(30,3.3),(31,3.0),(32,3.2),(33,3.1),(34,3.3),(35,3.0),(36,3.5),(37,3.2),(38,2.8),(39,3.0),(40,2.7),(42,2.6),(44,2.4),(46,2.2),(48,1.8),(50,1.6),(52,1.4),(54,1.1),(56,0.9),(58,0.8),(60,0.65),(61,1.0),(62,0.8),(63,0.5),(65,0.2),(67,0.05),(70,0),(100,0)]
y37a107_rf = [(0,0),(5,0),(10,0.02),(14,0.08),(18,0.26),(21,0.49),(24,0.84),(27,1.31),(30,1.89),(33,2.48),(36,3.06),(38,3.47),(40,3.82),(41.6,3.94),(44,3.82),(46,3.53),(48,3.3),(50,3.0),(52,2.6),(54,2.13),(56,1.78),(58,1.31),(60,0.84),(62,0.49),(64,0.26),(66,0.08),(68,0),(100,0)]
y37a107_rfrw = [(0,0),(3,0.02),(6,0.08),(9,0.2),(12,0.4),(14,0.6),(16,0.9),(17,1.1),(18,1.0),(19,1.1),(20,1.0),(21,1.3),(22,1.6),(23,2.0),(24,1.9),(25,2.2),(26,2.5),(27,2.9),(28,3.1),(29,3.3),(30,3.0),(31,3.2),(32,2.9),(33,3.3),(34,3.5),(35,4.0),(36,3.5),(37,3.2),(38,3.0),(39,3.3),(40,2.8),(42,2.5),(44,2.1),(46,1.8),(48,1.6),(50,1.4),(52,1.3),(54,1.1),(56,0.9),(58,0.75),(60,0.9),(61,1.05),(62,0.8),(63,0.5),(65,0.15),(67,0.03),(70,0),(100,0)]

# A107C C148
a107c148_exp = [(0,0),(12,0),(13,0.17),(14,0.44),(15,0.8),(16,1.25),(17,1.6),(18,1.8),(19,1.9),(20,1.97),(21,2.15),(22,2.29),(23,2.23),(24,2.17),(25,2.16),(26,2.16),(27,2.11),(28,2.02),(29,2.08),(30,2.15),(31,2.02),(32,1.7),(32.5,1.61),(33,2.33),(33.5,3.5),(34,3.73),(34.5,3.59),(35,2.78),(36,1.7),(37,0.98),(37.5,0.8),(38,0.94),(38.5,0.9),(39,0.71),(40,0.35),(41,0.17),(42,0.26),(43,0.49),(44,0.44),(45,0.26),(46,0.13),(47,0.04),(48,0),(50,0.08),(52,0.26),(53,0.22),(54,0.08),(55,0.01),(56,0),(60,0)]
a107c148_band = [(0,0,0.25),(2,0,0.12),(5,0,0.03),(12,0,0.05),(15,0.7,0.9),(18,1.7,1.9),(22,2.2,2.4),(26,2.15,2.3),(30,2.05,2.25),(32,1.6,1.8),(33.5,3.4,3.6),(34,3.6,3.85),(35,2.65,2.9),(37,0.9,1.05),(40,0.28,0.42),(41,0.1,0.25),(43,0.42,0.56),(46,0.05,0.15),(48,0,0.05),(50,0.03,0.15),(52,0.15,0.38),(54,0.02,0.12),(56,0,0),(60,0,0)]
a107c148_cy = [(0,0),(1,0.04),(2,0.08),(4,0.22),(6,0.4),(8,0.58),(10,0.76),(12,0.89),(13,0.98),(15,1.03),(17,1.16),(19,1.25),(21,1.34),(23,1.41),(25,1.37),(27,1.36),(29,1.34),(31,1.3),(33,1.25),(35,1.18),(37,1.15),(39,1.09),(41,1.03),(43,0.94),(45,0.89),(47,0.85),(48,0.82),(50,0.76),(52,0.62),(54,0.49),(56,0.35),(58,0.17),(59,0.04),(60,0)]
a107c148_cyrw = [(0,0),(8,0),(10,0.03),(12,0.1),(14,0.3),(15,0.6),(16,0.9),(17,1.3),(18,1.6),(19,1.75),(20,1.9),(21,2.2),(22,2.4),(23,2.45),(24,2.15),(25,2.2),(26,2.1),(27,2.2),(28,2.1),(29,2.25),(30,2.2),(31,2.35),(32,2.1),(33,1.9),(34,1.85),(35,1.7),(36,1.55),(37,1.4),(38,1.25),(39,1.1),(40,0.9),(41,0.7),(42,0.45),(43,0.5),(44,0.4),(45,0.3),(46,0.25),(47,0.3),(48,0.2),(49,0.1),(50,0.05),(52,0.02),(55,0),(60,0)]
a107c148_af = [(0,0.03),(9,0.03),(10,0.08),(12,0.17),(14,0.35),(15,0.53),(16,0.71),(18,1.03),(20,1.25),(22,1.52),(24,1.84),(26,2.1),(28,2.38),(30,2.56),(32,2.68),(33,2.66),(35,2.43),(37,1.97),(39,1.43),(41,0.89),(43,0.44),(45,0.17),(47,0.04),(50,0),(60,0)]
a107c148_afrw = [(0,0),(6,0),(9,0.05),(11,0.08),(13,0.2),(14,0.4),(15,0.8),(16,1.1),(17,1.4),(18,1.6),(19,1.7),(20,1.9),(21,2.0),(22,2.3),(23,2.1),(24,2.25),(25,2.35),(26,2.6),(27,2.3),(28,2.5),(29,2.45),(30,2.2),(31,2.4),(32,1.9),(33,1.7),(34,1.6),(35,1.5),(36,1.5),(37,1.3),(38,1.2),(39,1.05),(40,0.9),(41,0.8),(42,0.6),(43,0.4),(44,0.5),(45,0.35),(46,0.2),(47,0.3),(48,0.35),(49,0.2),(50,0.1),(52,0.05),(55,0),(60,0)]
a107c148_rf = [(0,0),(3,0.01),(6,0.04),(9,0.1),(11,0.22),(13,0.35),(15,0.62),(17,0.98),(19,1.25),(21,1.43),(23,1.54),(25,1.66),(27,1.75),(29,1.81),(31,1.84),(33,1.79),(35,1.7),(37,1.57),(39,1.43),(41,1.25),(43,1.07),(45,0.8),(47,0.58),(49,0.35),(51,0.17),(53,0.08),(55,0.04),(58,0.01),(60,0)]
a107c148_rfrw = [(0,0),(8,0),(10,0.05),(12,0.2),(13,0.3),(14,0.5),(15,0.7),(16,1.0),(17,1.3),(18,1.6),(19,1.8),(20,1.95),(21,2.1),(22,2.3),(23,2.25),(24,2.1),(25,2.15),(26,2.05),(27,2.15),(28,2.2),(29,2.25),(30,2.2),(31,2.1),(32,1.9),(33,1.95),(34,1.8),(35,1.85),(36,1.7),(37,1.45),(38,1.3),(39,1.15),(40,0.95),(41,0.75),(42,0.55),(43,0.5),(44,0.45),(45,0.35),(46,0.3),(47,0.2),(48,0.15),(49,0.1),(50,0.05),(52,0.02),(55,0),(60,0)]

titles = ['C16 S126C', 'C16 C148', 'C16 T169C', 'Y37C C148', 'Y37C T169C',
          'Y72C S126C', 'Y72C T169C', 'C16 A107C', 'Y37C A107C', 'A107C C148']
xmax = [150, 150, 150, 150, 150, 150, 150, 100, 100, 60]
xstep = [50, 50, 50, 50, 50, 50, 50, 20, 20, 20]
ylims = [(-0.51, 5.47), (-0.5, 5.2), (-0.48, 5.74), (-0.25, 3.47), (-0.25, 3.1),
         (-0.49, 4.49), (-0.51, 5.48), (-0.5, 4.99), (-0.5, 4.99), (-0.23, 4.0)]
ntick = [5, 5, 5, 3, 3, 4, 5, 4, 4, 3]

panels = [
    (c16s126_band, c16s126_exp, c16s126_cy, c16s126_cyrw, c16s126_af, c16s126_afrw, c16s126_rf, c16s126_rfrw),
    (c16c148_band, c16c148_exp, c16c148_cy, c16c148_cyrw, c16c148_af, c16c148_afrw, c16c148_rf, c16c148_rfrw),
    (c16t169_band, c16t169_exp, c16t169_cy, c16t169_cyrw, c16t169_af, c16t169_afrw, c16t169_rf, c16t169_rfrw),
    (y37c148_band, y37c148_exp, y37c148_cy, y37c148_cyrw, y37c148_af, y37c148_afrw, y37c148_rf, y37c148_rfrw),
    (y37t169_band, y37t169_exp, y37t169_cy, y37t169_cyrw, y37t169_af, y37t169_afrw, y37t169_rf, y37t169_rfrw),
    (y72s126_band, y72s126_exp, y72s126_cy, y72s126_cyrw, y72s126_af, y72s126_afrw, y72s126_rf, y72s126_rfrw),
    (y72t169_band, y72t169_exp, y72t169_cy, y72t169_cyrw, y72t169_af, y72t169_afrw, y72t169_rf, y72t169_rfrw),
    (c16a107_band, c16a107_exp, c16a107_cy, c16a107_cyrw, c16a107_af, c16a107_afrw, c16a107_rf, c16a107_rfrw),
    (y37a107_band, y37a107_exp, y37a107_cy, y37a107_cyrw, y37a107_af, y37a107_afrw, y37a107_rf, y37a107_rfrw),
    (a107c148_band, a107c148_exp, a107c148_cy, a107c148_cyrw, a107c148_af, a107c148_afrw, a107c148_rf, a107c148_rfrw),
]

labels = ['experimental', 'CYANA pool', 'CYANA reweighed', 'AF3 pool',
          'AF3 reweighed', 'RigiFlex pool', 'RigiFlex reweighed']
colors = ['black', '#40E0D0', '#008B8B', '#FFD700', '#DAA520', '#FF1493', '#B03030']

edge = '#262626'

fig = plt.figure(figsize=(12.26, 4.93), dpi=100)
lefts = [37, 277, 517, 758, 999]
rows = [199, 418]
W, H = 1226., 493.

for k, data in enumerate(panels):
    row, col = divmod(k, 5)
    ax = fig.add_axes([lefts[col] / W, 1 - rows[row] / H, 210 / W, 156 / H])
    band, exp, cy, cyrw, af, afrw, rf, rfrw = [np.array(d, dtype=float) for d in data]

    ax.fill_between(band[:, 0], band[:, 1], band[:, 2], color='#c0c0c0', lw=0)
    ax.plot(cy[:, 0], cy[:, 1], color=colors[1], lw=1.0)
    ax.plot(af[:, 0], af[:, 1], color=colors[3], lw=1.0)
    ax.plot(rf[:, 0], rf[:, 1], color=colors[5], lw=1.0)
    ax.plot(cyrw[:, 0], cyrw[:, 1], color=colors[2], lw=1.1)
    ax.plot(afrw[:, 0], afrw[:, 1], color=colors[4], lw=1.1)
    ax.plot(exp[:, 0], exp[:, 1], color=colors[0], lw=1.1)
    ax.plot(rfrw[:, 0], rfrw[:, 1], color=colors[6], lw=1.3)

    ax.set_xlim(0, xmax[k])
    ax.set_ylim(*ylims[k])
    ax.set_xticks(np.arange(0, xmax[k] + 1, xstep[k]))
    ax.set_yticks(np.arange(0, ntick[k] + 1))
    ax.set_yticklabels([])
    ax.tick_params(axis='y', direction='in', length=2.5, right=True, color=edge)
    ax.tick_params(axis='x', direction='in', length=2.5, labelsize=11.5,
                   labelcolor=edge, color=edge, pad=4)
    for s in ax.spines.values():
        s.set_color(edge)
        s.set_linewidth(1.6 if k == 5 else 1.0)

    ax.set_title(titles[k], loc='left', fontsize=13, pad=11)
    if col == 0:
        ax.set_ylabel(r'P(r) [Å$^{\mathregular{-1}}$]', fontsize=11.5, color=edge, labelpad=0)
    if row == 1:
        ax.set_xlabel(r'$r$ [Å]', fontsize=11.5, color=edge, labelpad=1)

# legend as coloured text row
legx = [85, 232, 376, 568, 686, 852, 998]
for lab, c, x in zip(labels, colors, legx):
    fig.text(x / W, 0.01, lab, color=c, fontsize=13, ha='left', va='baseline')

fig.savefig('out.png', dpi=100)
